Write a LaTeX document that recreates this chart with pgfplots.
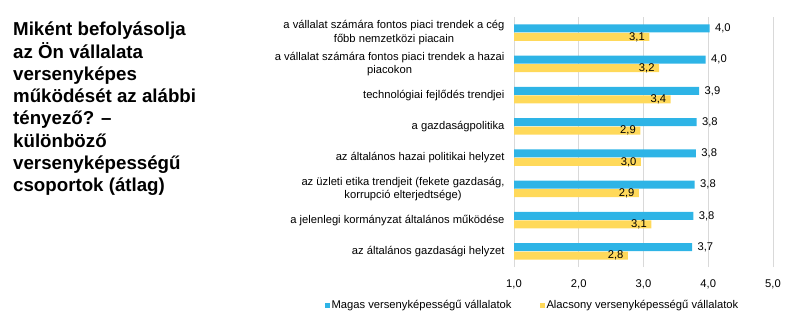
\documentclass[border=0pt]{standalone}
\usepackage{pgfplots}
\pgfplotsset{compat=1.18}
\usepackage{pgfplotstable}
\usepackage{fontspec}
\setmainfont{Liberation Sans}
\definecolor{cblue}{RGB}{46,180,230}
\definecolor{cyellow}{RGB}{255,217,90}
\definecolor{cgrid}{RGB}{217,217,217}
\pgfplotstableread{
y v lab
7 4.02 4,0
6 3.96 4,0
5 3.86 3,9
4 3.82 3,8
3 3.81 3,8
2 3.79 3,8
1 3.77 3,8
0 3.75 3,7
}\highdata
\pgfplotstableread{
y v lab
7 3.09 3,1
6 3.24 3,2
5 3.42 3,4
4 2.95 2,9
3 2.96 3,0
2 2.93 2,9
1 3.12 3,1
0 2.76 2,8
}\lowdata
\begin{document}
\begin{tikzpicture}
\useasboundingbox (0,0) rectangle (810bp,-321bp);
\node[anchor=base west, align=left, font=\fontsize{18.7bp}{22.3bp}\selectfont\bfseries, inner sep=0pt] at (13bp,-191.8bp)
{Miként befolyásolja\\az Ön vállalata\\versenyképes\\működését az alábbi\\tényező? –\\különböző\\versenyképességű\\csoportok (átlag)};
\begin{axis}[
  at={(514bp,-267bp)}, anchor=south west,
  scale only axis, width=259bp, height=250bp,
  xmin=1, xmax=5, ymin=-0.5, ymax=7.5,
  xtick={1,2,3,4,5},
  xticklabels={{1,0},{2,0},{3,0},{4,0},{5,0}},
  ytick={0,1,2,3,4,5,6,7},
  yticklabels={
    {az általános gazdasági helyzet},
    {a jelenlegi kormányzat általános működése},
    {az üzleti etika trendjeit (fekete gazdaság,\\korrupció elterjedtsége)},
    {az általános hazai politikai helyzet},
    {a gazdaságpolitika},
    {technológiai fejlődés trendjei},
    {a vállalat számára fontos piaci trendek a hazai\\piacokon},
    {a vállalat számára fontos piaci trendek a cég\\főbb nemzetközi piacain}},
  yticklabel style={align=center, font=\fontsize{11.2bp}{13.5bp}\selectfont, xshift=-6bp},
  xticklabel style={font=\fontsize{11.2bp}{13bp}\selectfont, yshift=-9.5bp},
  major tick length=0pt,
  axis line style={draw=none},
  xmajorgrids, grid style={cgrid, line width=0.8bp},
  xbar, bar width=8bp,
  point meta=explicit symbolic,
  nodes near coords,
  every node near coord/.append style={font=\fontsize{11.2bp}{13bp}\selectfont, text=black},
  legend style={at={(-0.732,-0.153)}, anchor=west, draw=none, fill=none, inner sep=0pt,
    legend columns=2, font=\fontsize{11.2bp}{13bp}\selectfont,
    /tikz/every even column/.append style={column sep=26bp}},
  legend image code/.code={\fill[#1] (0bp,-2.5bp) rectangle (5bp,2.5bp);},
]
\addplot[fill=cblue, draw=none, bar shift=4.2bp,
  every node near coord/.append style={anchor=west, xshift=2bp}]
  table[x=v, y=y, meta=lab] {\highdata};
\addlegendentry{Magas versenyképességű vállalatok}
\addplot[fill=cyellow, draw=none, bar shift=-4.2bp,
  every node near coord/.append style={anchor=east, xshift=-1bp}]
  table[x=v, y=y, meta=lab] {\lowdata};
\addlegendentry{Alacsony versenyképességű vállalatok}
\end{axis}
\end{tikzpicture}
\end{document}
